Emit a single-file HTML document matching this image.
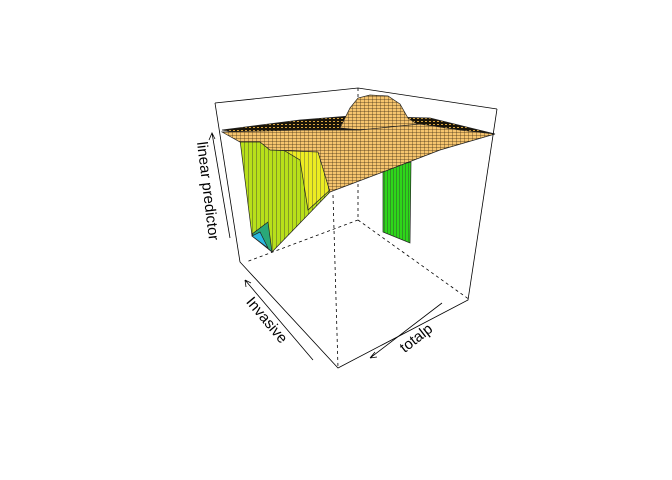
<!DOCTYPE html>
<html><head><meta charset="utf-8"><style>
html,body{margin:0;padding:0;background:#fff}
svg{display:block;font-family:"Liberation Sans",sans-serif}
</style></head><body>
<svg width="672" height="480" viewBox="0 0 672 480">
<defs>
<pattern id="grid" width="4" height="3" patternUnits="userSpaceOnUse">
<rect width="4" height="3" fill="#f6c56e"/><path d="M0 0H4M0 0V3" stroke="#3a2a10" stroke-width="0.7"/>
</pattern>
<pattern id="dark" width="4" height="3" patternUnits="userSpaceOnUse">
<rect width="4" height="3" fill="#1a1408"/><rect x="1" y="1" width="2" height="1" fill="#d9a640"/>
</pattern>
<pattern id="stripeY" width="4" height="10" patternUnits="userSpaceOnUse">
<rect width="4" height="10" fill="#b8e01a"/><path d="M0 0V10" stroke="#333" stroke-width="0.8"/>
</pattern>
<pattern id="stripeYY" width="4" height="10" patternUnits="userSpaceOnUse">
<rect width="4" height="10" fill="#ecec22"/><path d="M0 0V10" stroke="#444" stroke-width="0.8"/>
</pattern>
<pattern id="stripeG" width="3" height="10" patternUnits="userSpaceOnUse">
<rect width="3" height="10" fill="#2ed61a"/><path d="M0 0V10" stroke="#333" stroke-width="0.8"/>
</pattern>
</defs>
<g stroke="#000" stroke-width="0.8" stroke-dasharray="3,3" fill="none">
<path d="M358 88 L358 220 M358 220 L246 262 M358 220 L470 300 M333 195 L338 368"/>
</g>
<g stroke="#222" stroke-width="0.7">
<polygon points="240,140 330,135 330,192 272,252 252,236" fill="url(#stripeY)"/>
<polygon points="275,145 330,140 330,190 308,210 300,160" fill="url(#stripeYY)"/>
<polygon points="252,234 268,222 272,252" fill="#2aa878"/>
<polygon points="252,236 260,232 268,248" fill="#2ab8e0"/>
<polygon points="383,168 411,162 410,243 383,232" fill="url(#stripeG)"/>
<polygon points="222,130 300,120 350,116 430,118 495,134 300,142" fill="url(#dark)"/>
<polygon points="340,128 350,108 358,98 370,95 388,96 400,104 408,118 420,126 380,132" fill="url(#grid)"/>
<polygon points="222,132 300,130 360,130 420,124 460,130 495,134 440,150 383,172 330,192 318,152 270,150 260,142 240,142" fill="url(#grid)"/>
</g>
<g stroke="#000" stroke-width="0.8" fill="none">
<path d="M215 103 L358 88 L497 109 M215 103 L240 262 L338 368 L468 300 L497 109"/>
</g>
<g>
<path d="M212 133 L230 238 M209 140 L212 133 L215 139" stroke="#000" fill="none" stroke-width="0.8"/>
<text x="0" y="5" font-size="15" text-anchor="middle" transform="translate(208,191) rotate(83)">linear predictor</text>
</g>
<g>
<path d="M245 280 L313 360 M245 280 L251 283 M245 280 L246 287" stroke="#000" fill="none" stroke-width="0.8"/>
<text x="0" y="5" font-size="15" text-anchor="middle" transform="translate(267,320) rotate(50)">Invasive</text>
</g>
<g>
<path d="M370 358 L442 303 M370 358 L375 352 M370 358 L377 357" stroke="#000" fill="none" stroke-width="0.8"/>
<text x="0" y="5" font-size="15" text-anchor="middle" transform="translate(416,338) rotate(-38)">totalp</text>
</g>
</svg>
</body></html>
